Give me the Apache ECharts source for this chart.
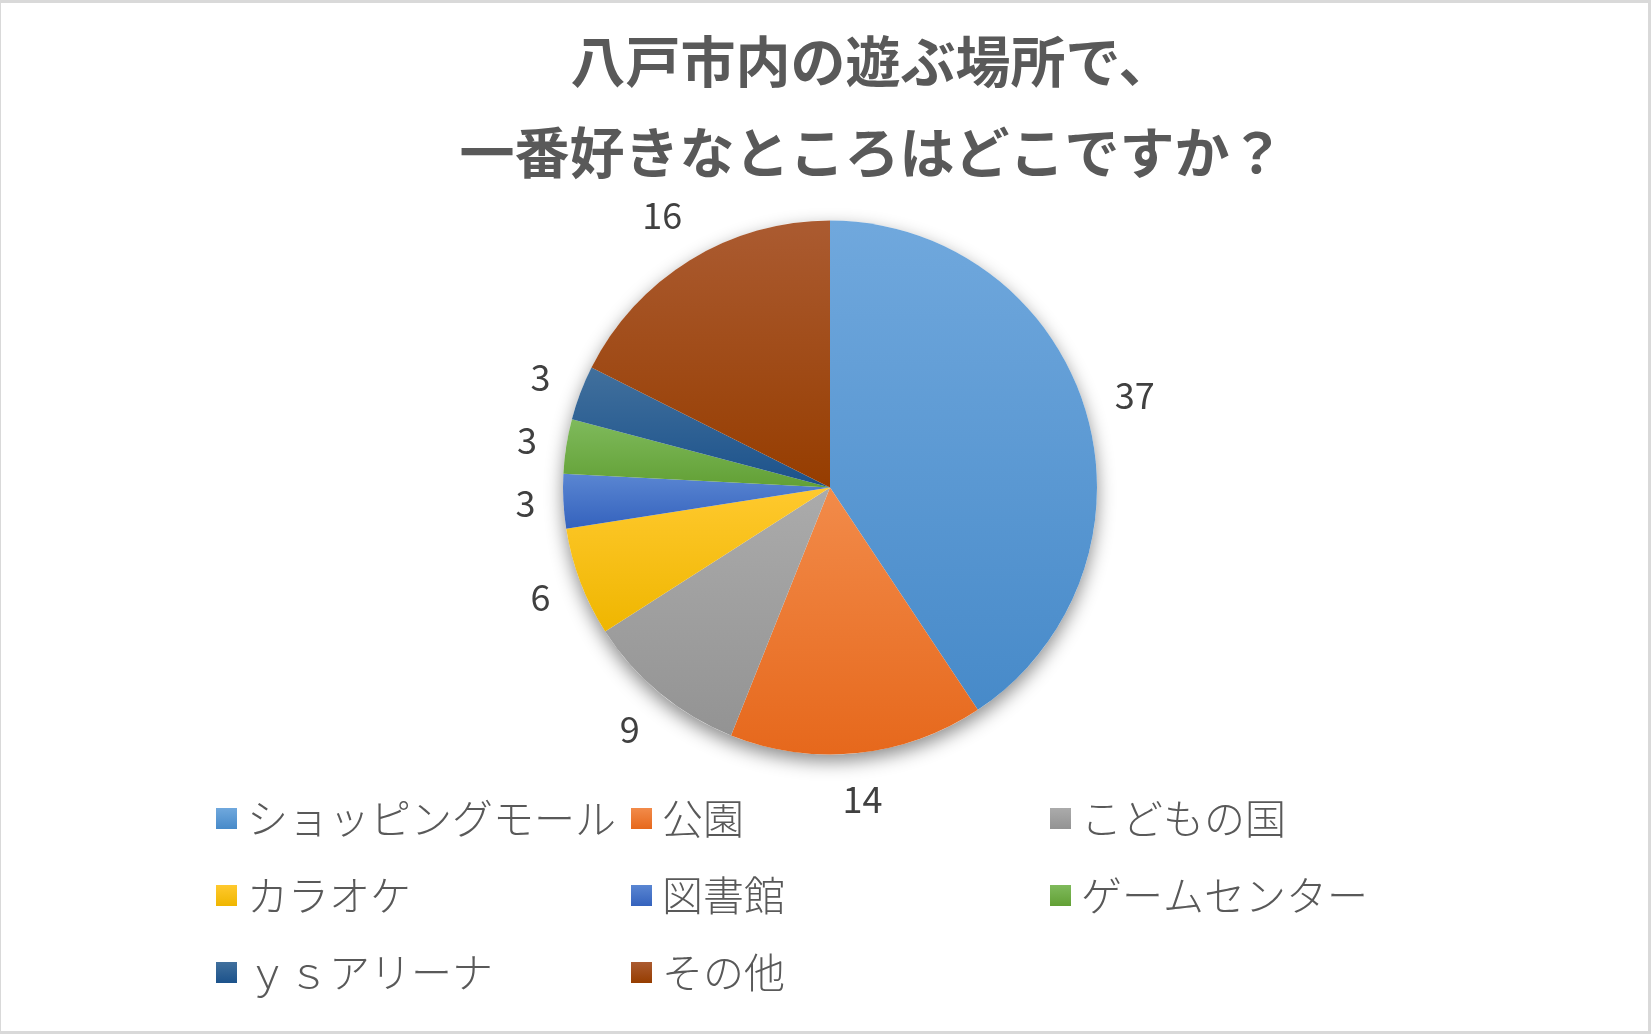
<!DOCTYPE html>
<html>
<head>
<meta charset="utf-8">
<script src="https://cdn.jsdelivr.net/npm/echarts@6/dist/echarts.min.js"></script>
<style>
  html, body { margin: 0; padding: 0; width: 1651px; height: 1034px; background: #d9d9d9; overflow: hidden; }
  #main { position: absolute; left: 1px; top: 3px; width: 1647px; height: 1028px; background: #fff; }
</style>
</head>
<body>
<div id="main"></div>
<script>
// 八戸市内の遊ぶ場所 アンケート
const categories = ["ショッピングモール", "公園", "こどもの国", "カラオケ", "図書館", "ゲームセンター", "ｙｓアリーナ", "その他"];
const values = [37, 14, 9, 6, 3, 3, 3, 16];

// slice gradient (top -> bottom)
const colorTop = ["#70a8dd", "#f28b4a", "#ababab", "#ffc92e", "#5a86d2", "#7fba5c", "#41709d", "#ab5b31"];
const colorBottom = ["#478ac9", "#e6681c", "#939393", "#efb600", "#3462bd", "#62a035", "#1c528b", "#963d00"];

// legend columns (index into categories)
const legendCols = [[0, 3, 6], [1, 4, 7], [2, 5]];
const legendLeft = [210, 625, 1044];

const chart = echarts.init(document.getElementById("main"));

const grad = (i) => new echarts.graphic.LinearGradient(0, 0, 0, 1, [
  { offset: 0, color: colorTop[i] },
  { offset: 1, color: colorBottom[i] }
]);

const center = [829, 484.5];
const radius = 267;
const labelGap = 27;

const total = values.reduce((a, b) => a + b, 0);
const midAngles = [];
let acc = 0;
values.forEach((v) => {
  midAngles.push((acc + v / 2) / total * Math.PI * 2);
  acc += v;
});

// place each value label outside the slice, along the slice's middle direction,
// with its box kept a fixed gap away from the rim (like Excel's outside-end labels)
function placeLabel(params) {
  if (params.seriesIndex !== 1) return {};
  const a = midAngles[params.dataIndex];
  const dx = Math.sin(a), dy = -Math.cos(a);
  const w = params.labelRect.width, h = params.labelRect.height;
  const ext = Math.abs(dx) * w / 2 + Math.abs(dy) * h / 2;
  const d = radius + labelGap + ext;
  return {
    x: center[0] + dx * d,
    y: center[1] + dy * d,
    align: "center",
    verticalAlign: "middle"
  };
}

const option = {
  animation: false,
  title: {
    text: "八戸市内の遊ぶ場所で、\n一番好きなところはどこですか？",
    left: 866,
    top: 8,
    textAlign: "center",
    textStyle: {
      fontFamily: "Noto Sans CJK JP",
      fontSize: 55,
      fontWeight: "bold",
      color: "#595959",
      lineHeight: 91
    }
  },
  legend: legendCols.map((col, k) => ({
    orient: "vertical",
    left: legendLeft[k],
    top: 790,
    itemWidth: 21,
    itemHeight: 21,
    itemGap: 36,
    icon: "rect",
    selectedMode: false,
    data: col.map((i) => categories[i]),
    textStyle: {
      fontFamily: "Noto Sans CJK JP",
      fontWeight: 300,
      fontSize: 41,
      lineHeight: 41,
      color: "#595959",
      padding: [0, 0, 0, 5]
    }
  })),
  labelLayout: placeLabel,
  series: [
    {
      // soft drop shadow under the pie
      type: "pie",
      silent: true,
      center: center,
      radius: radius,
      z: 1,
      label: { show: false },
      labelLine: { show: false },
      data: [{ value: 1, name: "" }],
      itemStyle: {
        color: "#ffffff",
        shadowBlur: 18,
        shadowOffsetY: 7,
        shadowColor: "rgba(0,0,0,0.45)"
      }
    },
    {
      type: "pie",
      center: center,
      radius: radius,
      startAngle: 90,
      clockwise: true,
      z: 2,
      avoidLabelOverlap: false,
      emphasis: { disabled: true },
      labelLayout: placeLabel,
      label: {
        show: true,
        position: "outside",
        formatter: "{c}",
        fontFamily: "Noto Sans CJK JP",
        fontSize: 36,
        color: "#404040"
      },
      labelLine: { show: false, length: 20, length2: 0 },
      data: categories.map((name, i) => ({
        name: name,
        value: values[i],
        itemStyle: { color: grad(i) }
      }))
    }
  ]
};

chart.setOption(option);
</script>
</body>
</html>
